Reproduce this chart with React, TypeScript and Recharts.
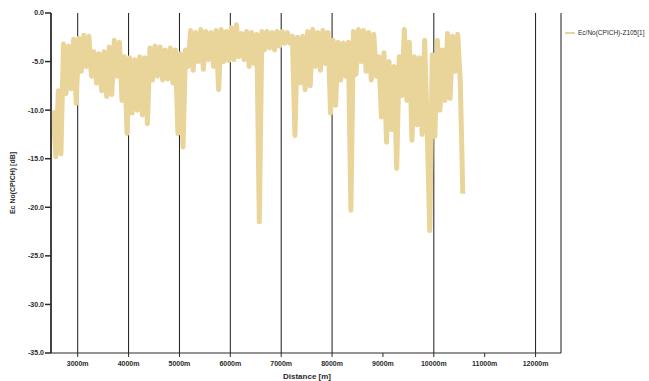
import { LineChart, Line, XAxis, YAxis, CartesianGrid, Legend } from "recharts";

// Ec/No samples along the drive route, one every 50 m from 2520 m
const startM = 2520;
const stepM = 50;
const ecnoDb = [
  -10.0, -14.8, -8.0, -14.5, -3.2, -8.3, -3.4, -7.8, -2.7, -9.3,
  -2.6, -6.0, -2.3, -5.5, -2.4, -6.5, -4.0, -7.2, -4.2, -8.0,
  -4.0, -8.6, -3.5, -8.4, -2.8, -6.5, -3.0, -9.0, -4.5, -12.4,
  -4.6, -10.3, -4.8, -10.0, -4.5, -10.5, -4.6, -11.4, -3.6, -6.9,
  -3.4, -6.5, -3.5, -6.9, -3.8, -6.8, -3.6, -7.2, -3.8, -12.4,
  -4.2, -13.8, -3.8, -5.5, -1.8, -5.9, -2.0, -5.0, -1.7, -5.8,
  -1.9, -4.8, -2.0, -5.5, -1.8, -7.9, -1.7, -5.0, -1.9, -4.9,
  -1.5, -4.8, -1.2, -4.5, -2.1, -4.8, -1.9, -5.5, -2.0, -5.2,
  -2.2, -21.5, -1.9, -3.8, -1.9, -3.6, -2.0, -3.8, -1.9, -3.4,
  -1.9, -3.1, -2.0, -3.1, -2.4, -12.6, -2.5, -7.2, -2.4, -7.9,
  -1.9, -7.5, -1.7, -5.5, -2.0, -5.9, -1.8, -5.2, -2.0, -10.3,
  -2.8, -9.5, -3.0, -6.9, -3.1, -6.5, -3.0, -20.3, -1.9, -6.3,
  -1.7, -5.0, -1.8, -6.0, -2.0, -6.9, -2.2, -6.5, -4.5, -10.7,
  -4.1, -13.3, -5.0, -12.0, -5.5, -16.0, -4.5, -8.5, -1.7, -9.0,
  -3.0, -13.1, -4.5, -11.5, -4.6, -12.5, -2.8, -12.0, -22.4, -4.3,
  -12.7, -2.8, -10.0, -3.8, -9.0, -2.1, -8.8, -2.4, -6.0, -2.2,
  -7.0, -18.6,
];

const distTicks = [3000, 4000, 5000, 6000, 7000, 8000, 9000, 10000, 11000, 12000];
const dbTicks = [0, -5, -10, -15, -20, -25, -30, -35];
const seriesName = "Ec/No(CPICH)-Z105[1]";

const data = ecnoDb.map((v, i) => ({ dist: startM + i * stepM, ecno: v }));

const lineColor = "#E9D49A";
const ink = "#2a2a2a";
const font = "Liberation Sans, Arial, sans-serif";
const tickStyle = { fill: ink, fontSize: 7, fontFamily: font, fontWeight: 600 };

function LegendBox() {
  return (
    <div style={{ display: "flex", alignItems: "center", fontSize: 6.5, fontFamily: font, color: ink, whiteSpace: "nowrap" }}>
      <svg width={10} height={4}>
        <line x1={0} y1={2} x2={10} y2={2} stroke={lineColor} strokeWidth={2} />
      </svg>
      <span style={{ marginLeft: 3 }}>{seriesName}</span>
    </div>
  );
}

export default function App() {
  return (
    <div style={{ position: "absolute", left: 0, top: 0, width: 649, height: 381, background: "#fff" }}>
      <LineChart width={649} height={381} data={data} margin={{ top: 13, right: 88, bottom: 0, left: 0 }}>
        <CartesianGrid horizontal={false} stroke="#1a1a1a" strokeWidth={1} />
        <XAxis
          dataKey="dist"
          type="number"
          domain={[2475, 12500]}
          ticks={distTicks}
          tickFormatter={(v) => `${v}m`}
          height={28}
          stroke={ink}
          tickSize={4}
          tickMargin={4}
          tick={tickStyle}
          allowDataOverflow
          label={{ value: "Distance [m]", position: "center", dy: 9, dx: 1, style: { fill: ink, fontSize: 8, fontFamily: font, fontWeight: 700 } }}
        />
        <XAxis xAxisId="top" orientation="top" dataKey="dist" type="number" domain={[2475, 12500]} height={0} tick={false} tickLine={false} stroke={ink} />
        <YAxis
          domain={[-35, 0]}
          ticks={dbTicks}
          tickFormatter={(v) => v.toFixed(1)}
          width={51}
          stroke={ink}
          strokeWidth={1.5}
          tickSize={6}
          tickMargin={1}
          tick={tickStyle}
          allowDataOverflow
          label={{ value: "Ec No(CPICH) [dB]", angle: -90, position: "center", dx: -13, style: { fill: ink, fontSize: 7, fontFamily: font, fontWeight: 700 } }}
        />
        <YAxis yAxisId="right" orientation="right" domain={[-35, 0]} width={0} tick={false} tickLine={false} stroke={ink} strokeWidth={2} />
        <Legend
          layout="horizontal"
          align="center"
          verticalAlign="middle"
          content={<LegendBox />}
          wrapperStyle={{ left: 565, top: 29, width: 84 }}
        />
        <Line
          dataKey="ecno"
          name={seriesName}
          type="linear"
          stroke={lineColor}
          strokeWidth={5}
          strokeLinejoin="round"
          dot={false}
          isAnimationActive={false}
        />
      </LineChart>
    </div>
  );
}
